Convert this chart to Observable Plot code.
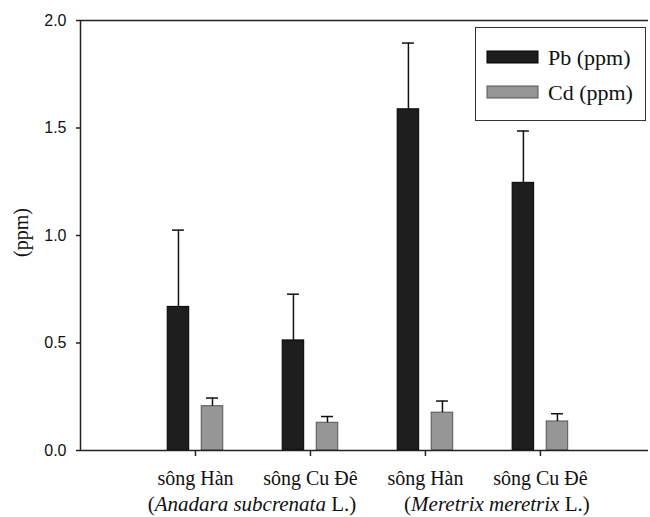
<!DOCTYPE html>
<html>
<head>
<meta charset="utf-8">
<script src="https://cdn.jsdelivr.net/npm/d3@7"></script>
<script src="https://cdn.jsdelivr.net/npm/@observablehq/plot@0.6"></script>
<style>
  html, body { margin: 0; padding: 0; background: #fff; }
  #chart { position: relative; width: 650px; height: 517px; }
</style>
</head>
<body>
<div id="chart"></div>
<script>
// ---- data ----
const sites = ["sông Hàn", "sông Cu Đê", "sông Hàn", "sông Cu Đê"];
const speciesNames = ["Anadara subcrenata", "Meretrix meretrix"];
const speciesOfSite = [0, 0, 1, 1];
const seriesNames = ["Pb (ppm)", "Cd (ppm)"];
const pbMean = [0.668, 0.512, 1.587, 1.245];
const pbErr  = [0.357, 0.215, 0.308, 0.241];
const cdMean = [0.206, 0.129, 0.176, 0.135];
const cdErr  = [0.038, 0.029, 0.054, 0.036];
const yTicks = [0, 0.5, 1.0, 1.5, 2.0];
const yLabel = "(ppm)";

// ---- layout / style constants ----
const serif = "'Liberation Serif', 'Times New Roman', serif";
const sans = "'Liberation Sans', Arial, sans-serif";
const fills = {"Pb (ppm)": "#1e1e1e", "Cd (ppm)": "#969696"};
const strokes = {"Pb (ppm)": "#000", "Cd (ppm)": "#555"};
const offset = {"Pb (ppm)": -0.148, "Cd (ppm)": 0.148};
const barW = 0.187;
const capHalf = 0.052;

const rows = sites.flatMap((s, k) => [
  {pos: k + 1, series: seriesNames[0], value: pbMean[k], err: pbErr[k]},
  {pos: k + 1, series: seriesNames[1], value: cdMean[k], err: cdErr[k]}
]);
const cx = d => d.pos + offset[d.series];

const speciesRows = speciesNames.map((name, j) => ({
  name,
  pos: d3.mean(sites.map((s, k) => k + 1).filter((p, k) => speciesOfSite[k] === j))
}));

const speciesText = (rowsSubset, dx) => Plot.text(rowsSubset, {
  x: "pos", frameAnchor: "bottom", lineAnchor: "middle", textAnchor: "middle",
  dy: 54, dx, text: d => `(${d.name} L.)`,
  fontSize: 21, fontFamily: serif, fill: "#111"
});

const plot = Plot.plot({
  width: 650,
  height: 517,
  marginLeft: 80,
  marginRight: 2,
  marginTop: 20,
  marginBottom: 67,
  style: {fontFamily: serif, color: "#111", background: "#fff"},
  x: {type: "linear", domain: [0, 4.94], axis: null},
  y: {domain: [0, 2], axis: null},
  marks: [
    Plot.rect(rows, {
      x1: d => cx(d) - barW / 2, x2: d => cx(d) + barW / 2,
      y1: 0, y2: "value",
      fill: d => fills[d.series], stroke: d => strokes[d.series], strokeWidth: 1
    }),
    Plot.ruleX(rows, {x: cx, y1: "value", y2: d => d.value + d.err, stroke: "#111", strokeWidth: 1.5}),
    Plot.ruleY(rows, {y: d => d.value + d.err, x1: d => cx(d) - capHalf, x2: d => cx(d) + capHalf, stroke: "#111", strokeWidth: 1.5}),
    Plot.ruleY([0], {stroke: "#222", strokeWidth: 1.5}),
    Plot.ruleY([2], {stroke: "#222", strokeWidth: 1.5}),
    Plot.ruleX([0], {stroke: "#222", strokeWidth: 1.5}),
    Plot.axisY({
      ticks: yTicks, tickFormat: d3.format(".1f"), tickSize: 4, tickPadding: 10,
      fontSize: 16, fontFamily: sans, label: null, stroke: "#222", strokeWidth: 1.5
    }),
    Plot.axisX({
      ticks: sites.map((s, k) => k + 1), tickFormat: p => sites[p - 1],
      tickSize: 6, tickPadding: 14, fontSize: 20, fontFamily: serif, label: null,
      stroke: "#222", strokeWidth: 1.5
    }),
    Plot.text([yLabel], {
      frameAnchor: "left", textAnchor: "middle", lineAnchor: "middle",
      rotate: -90, dx: -59, dy: -3, text: d => d,
      fontSize: 20, fontFamily: serif, fill: "#111"
    }),
    speciesText(speciesRows.slice(0, 1), -1),
    speciesText(speciesRows.slice(1), 14)
  ]
});

// italicise the species names inside the labels
d3.select(plot).selectAll("text").each(function() {
  const t = d3.select(this);
  if (t.selectAll("tspan").size() > 0) return;
  const m = /^\((.*) L\.\)$/.exec(t.text());
  if (!m) return;
  t.text(null);
  t.append("tspan").text("(");
  t.append("tspan").attr("font-style", "italic").text(m[1]);
  t.append("tspan").text(" L.)");
});

// legend inside the plot area (top-right)
const svg = d3.select(plot);
const lg = svg.append("g").attr("aria-label", "legend")
  .style("font-family", serif).style("text-anchor", "start");
lg.append("rect").attr("x", 475.5).attr("y", 27.5).attr("width", 170).attr("height", 93)
  .attr("fill", "#fff").attr("stroke", "#333").attr("stroke-width", 1);
seriesNames.forEach((name, i) => {
  const cy = 57 + i * 35;
  lg.append("rect").attr("x", 487).attr("y", cy - 6).attr("width", 51).attr("height", 12)
    .attr("fill", fills[name]).attr("stroke", strokes[name]).attr("stroke-width", 1);
  lg.append("text").attr("x", 548).attr("y", cy).attr("dy", "0.35em")
    .style("font-family", serif).style("font-size", "22px").style("text-anchor", "start")
    .attr("fill", "#111").text(name);
});

document.getElementById("chart").appendChild(plot);
</script>
</body>
</html>
